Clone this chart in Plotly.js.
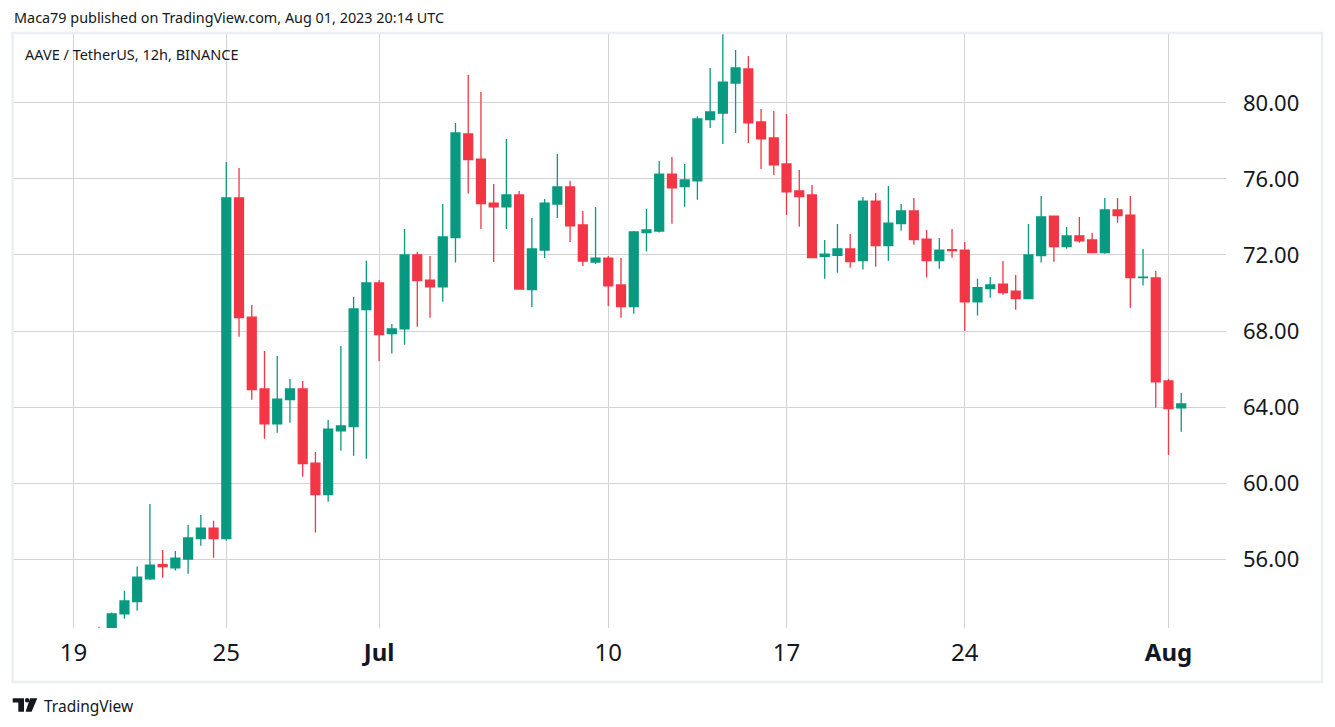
<!DOCTYPE html>
<html>
<head>
<meta charset="utf-8">
<script src="https://cdn.plot.ly/plotly-3.0.1.min.js"></script>
<style>
  html, body { margin: 0; padding: 0; background: #ffffff; }
  #chart { width: 1335px; height: 727px; }
</style>
</head>
<body>
<div id="chart"></div>
<script>
// ---- Data (AAVE / TetherUS, 12h candles) ----
const times = [
  '2023-06-20 00:00','2023-06-20 12:00','2023-06-21 00:00','2023-06-21 12:00',
  '2023-06-22 00:00','2023-06-22 12:00','2023-06-23 00:00','2023-06-23 12:00',
  '2023-06-24 00:00','2023-06-24 12:00','2023-06-25 00:00','2023-06-25 12:00',
  '2023-06-26 00:00','2023-06-26 12:00','2023-06-27 00:00','2023-06-27 12:00',
  '2023-06-28 00:00','2023-06-28 12:00','2023-06-29 00:00','2023-06-29 12:00',
  '2023-06-30 00:00','2023-06-30 12:00','2023-07-01 00:00','2023-07-01 12:00',
  '2023-07-02 00:00','2023-07-02 12:00','2023-07-03 00:00','2023-07-03 12:00',
  '2023-07-04 00:00','2023-07-04 12:00','2023-07-05 00:00','2023-07-05 12:00',
  '2023-07-06 00:00','2023-07-06 12:00','2023-07-07 00:00','2023-07-07 12:00',
  '2023-07-08 00:00','2023-07-08 12:00','2023-07-09 00:00','2023-07-09 12:00',
  '2023-07-10 00:00','2023-07-10 12:00','2023-07-11 00:00','2023-07-11 12:00',
  '2023-07-12 00:00','2023-07-12 12:00','2023-07-13 00:00','2023-07-13 12:00',
  '2023-07-14 00:00','2023-07-14 12:00','2023-07-15 00:00','2023-07-15 12:00',
  '2023-07-16 00:00','2023-07-16 12:00','2023-07-17 00:00','2023-07-17 12:00',
  '2023-07-18 00:00','2023-07-18 12:00','2023-07-19 00:00','2023-07-19 12:00',
  '2023-07-20 00:00','2023-07-20 12:00','2023-07-21 00:00','2023-07-21 12:00',
  '2023-07-22 00:00','2023-07-22 12:00','2023-07-23 00:00','2023-07-23 12:00',
  '2023-07-24 00:00','2023-07-24 12:00','2023-07-25 00:00','2023-07-25 12:00',
  '2023-07-26 00:00','2023-07-26 12:00','2023-07-27 00:00','2023-07-27 12:00',
  '2023-07-28 00:00','2023-07-28 12:00','2023-07-29 00:00','2023-07-29 12:00',
  '2023-07-30 00:00','2023-07-30 12:00','2023-07-31 00:00','2023-07-31 12:00',
  '2023-08-01 00:00','2023-08-01 12:00'
];
const openV = [
  52.30,52.00,53.12,53.76,54.96,55.70,55.54,56.00,57.07,57.63,57.07,75.00,
  68.73,64.95,63.12,64.39,64.95,61.05,59.39,62.75,62.97,69.12,70.53,67.86,
  68.11,72.00,70.68,70.33,72.91,78.37,77.05,74.73,74.54,75.16,70.18,72.26,
  74.68,75.58,73.58,71.63,71.84,70.42,69.28,73.18,73.26,76.26,75.60,75.90,
  79.12,79.47,81.05,81.79,79.00,78.16,76.79,75.37,75.16,71.93,71.98,72.32,
  71.70,74.84,72.49,73.65,74.32,72.84,71.70,72.28,72.26,69.54,70.23,70.47,
  70.10,69.70,71.97,74.05,72.44,73.00,72.79,72.12,74.37,74.10,70.81,70.79,
  65.37,63.96
];
const highV = [
  52.44,53.19,54.33,55.60,58.90,56.47,56.42,57.79,58.32,58.02,76.90,76.58,
  69.37,66.95,66.68,65.47,65.37,61.63,63.32,67.21,69.79,71.70,70.68,68.37,
  73.37,72.16,71.95,74.68,78.95,81.47,80.58,75.74,78.11,75.37,73.95,74.95,
  77.32,75.89,74.32,74.53,71.95,71.84,73.26,74.42,76.95,77.16,76.79,79.30,
  81.84,83.70,82.79,82.47,79.68,79.58,79.42,76.47,75.68,72.79,73.63,73.11,
  75.05,75.26,75.63,74.68,75.00,73.32,72.89,73.37,72.68,70.75,70.84,71.68,
  70.95,73.63,75.11,74.07,73.47,74.00,73.16,75.00,75.00,75.11,72.32,71.16,
  65.47,64.74
];
const lowV = [
  51.60,51.80,52.86,53.28,54.90,55.02,55.39,55.23,56.70,56.07,56.96,67.70,
  64.38,62.33,62.65,63.17,60.33,57.39,59.02,61.70,61.44,61.28,66.42,66.81,
  67.28,68.23,68.70,69.54,71.60,75.23,73.37,71.63,73.37,70.18,69.26,71.84,
  73.95,72.68,71.42,71.53,69.32,68.70,68.91,72.18,73.18,73.65,74.54,74.91,
  78.68,77.84,78.42,77.89,76.53,76.21,74.11,73.49,71.84,70.75,71.07,71.33,
  71.23,71.38,71.70,73.28,72.54,70.81,71.28,71.86,68.00,68.81,69.75,69.91,
  69.12,69.68,71.60,71.65,72.33,72.65,72.10,72.07,73.70,69.23,70.39,63.96,
  61.47,62.70
];
const closeV = [
  52.00,53.11,53.79,55.05,55.68,55.60,56.05,57.11,57.63,57.07,75.00,68.70,
  64.91,63.12,64.42,64.95,61.02,59.39,62.84,63.00,69.16,70.53,67.81,68.11,
  72.00,70.65,70.33,72.95,78.42,77.02,74.70,74.54,75.16,70.21,72.32,74.73,
  75.58,73.54,71.68,71.84,70.37,69.28,73.21,73.32,76.26,75.54,75.95,79.16,
  79.53,81.10,81.84,78.95,78.11,76.74,75.32,75.07,71.86,72.04,72.32,71.65,
  74.84,72.49,73.68,74.32,72.81,71.70,72.26,72.23,69.54,70.28,70.42,70.02,
  69.70,72.00,74.00,72.44,73.00,72.75,72.12,74.37,74.07,70.81,70.84,65.33,
  63.91,64.16
];
const tickDates = ['2023-06-19','2023-06-25','2023-07-01','2023-07-10','2023-07-17','2023-07-24','2023-08-01'];
const tickLabels = ['19','25','<b>Jul</b>','10','17','24','<b>Aug</b>'];
const priceTicks = [56,60,64,68,72,76,80];

const headerText = 'Maca79 published on TradingView.com, Aug 01, 2023 20:14 UTC';
const legendText = 'AAVE / TetherUS, 12h, BINANCE';
const brandText = 'TradingView';

// ---- Layout geometry (pixels) ----
const W = 1335, H = 727;
const PL = 13, PR = 1226, PT = 34, PB = 628;
const px = x => (x - PL) / (PR - PL);
const py = y => (PB - y) / (PB - PT);

const FONT = '"Noto Sans", "Open Sans", sans-serif';
const TXT = '#131722';
const UP = '#089981', DOWN = '#F23645';

const trace = {
  type: 'candlestick',
  x: times, open: openV, high: highV, low: lowV, close: closeV,
  increasing: { line: { color: UP, width: 1.3 }, fillcolor: UP },
  decreasing: { line: { color: DOWN, width: 1.3 }, fillcolor: DOWN },
  whiskerwidth: 0,
  hoverinfo: 'none',
  showlegend: false
};

function logoPath() {
  const P = (x, y) => px(x).toFixed(5) + ',' + py(y).toFixed(5);
  return 'M' + P(12.7, 698.3) + ' L' + P(24, 698.3) + ' L' + P(24, 711.7) + ' L' + P(18.3, 711.7) +
         ' L' + P(18.3, 702.5) + ' L' + P(12.7, 702.5) + ' Z';
}
function slashPath() {
  const P = (x, y) => px(x).toFixed(5) + ',' + py(y).toFixed(5);
  return 'M' + P(30.0, 698.3) + ' L' + P(37.3, 698.3) + ' L' + P(31.6, 711.7) + ' L' + P(25.6, 711.7) + ' Z';
}

const layout = {
  width: W, height: H,
  margin: { l: PL, r: W - PR, t: PT, b: H - PB, pad: 0 },
  paper_bgcolor: '#ffffff',
  plot_bgcolor: '#ffffff',
  font: { family: FONT, color: TXT },
  showlegend: false,
  boxgap: 0.3,
  boxgroupgap: 0,
  xaxis: {
    type: 'date',
    range: ['2023-06-16 14:58', '2023-08-03 06:12'],
    rangeslider: { visible: false },
    tickmode: 'array',
    tickvals: tickDates,
    ticktext: tickLabels,
    showgrid: true,
    gridcolor: '#d3d3d3',
    gridwidth: 1,
    zeroline: false,
    showline: false,
    ticks: '',
    tickfont: { size: 24, color: TXT, family: FONT },
    ticklabelstandoff: 8,
    fixedrange: true
  },
  yaxis: {
    side: 'right',
    range: [52.37, 83.63],
    tickmode: 'array',
    tickvals: priceTicks,
    ticktext: priceTicks.map(v => v.toFixed(2)),
    showgrid: true,
    gridcolor: '#d3d3d3',
    gridwidth: 1,
    zeroline: false,
    showline: false,
    ticks: '',
    tickfont: { size: 22, color: TXT, family: FONT },
    ticklabelstandoff: 16,
    fixedrange: true
  },
  shapes: [
    { type: 'rect', xref: 'paper', yref: 'paper', layer: 'above',
      x0: px(12.5), x1: px(1322), y0: py(682), y1: py(33),
      line: { color: '#eceef4', width: 2.5 }, fillcolor: 'rgba(0,0,0,0)' },
    { type: 'path', xref: 'paper', yref: 'paper', path: logoPath(),
      fillcolor: TXT, line: { width: 0 } },
    { type: 'path', xref: 'paper', yref: 'paper', path: slashPath(),
      fillcolor: TXT, line: { width: 0 } },
    { type: 'circle', xref: 'paper', yref: 'paper',
      x0: px(24.9), x1: px(29.3), y0: py(702.5), y1: py(698.1),
      fillcolor: TXT, line: { width: 0 } }
  ],
  annotations: [
    { xref: 'paper', yref: 'paper', x: px(12), y: py(18), xanchor: 'left', yanchor: 'middle',
      text: headerText, showarrow: false, font: { size: 14.4, color: TXT, family: FONT } },
    { xref: 'paper', yref: 'paper', x: px(22.5), y: py(54), xanchor: 'left', yanchor: 'middle',
      text: legendText, showarrow: false, font: { size: 14.5, color: TXT, family: FONT } },
    { xref: 'paper', yref: 'paper', x: px(41.5), y: py(706), xanchor: 'left', yanchor: 'middle',
      text: brandText, showarrow: false, font: { size: 15.5, color: TXT, family: FONT } }
  ]
};

Plotly.newPlot('chart', [trace], layout, { staticPlot: true, displayModeBar: false });
</script>
</body>
</html>
